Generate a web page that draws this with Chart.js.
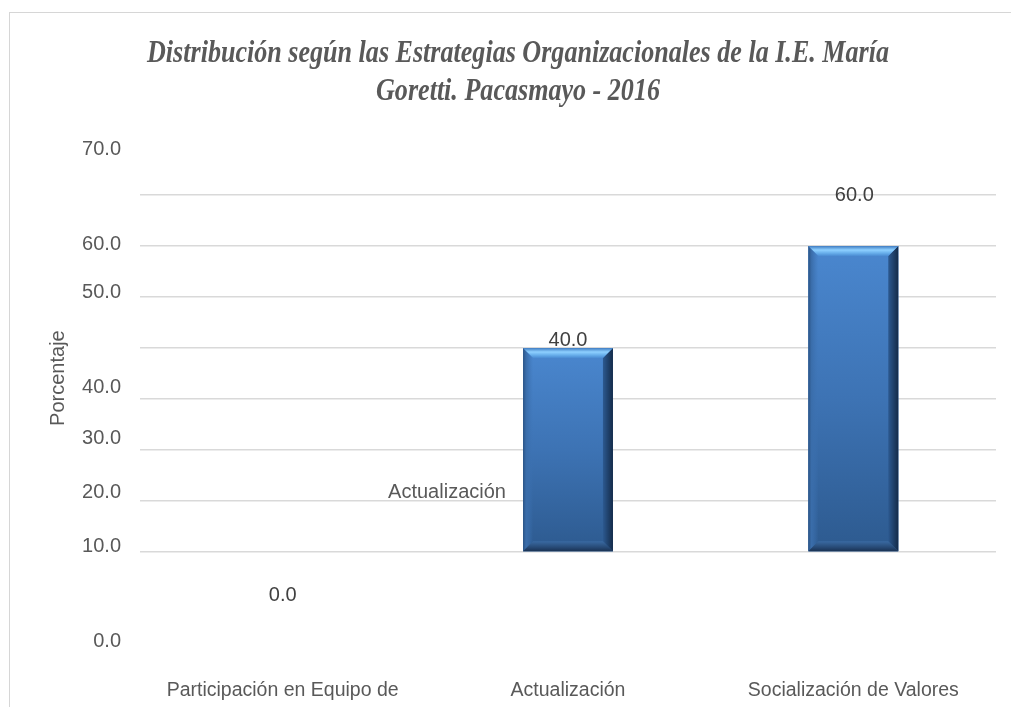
<!DOCTYPE html>
<html>
<head>
<meta charset="utf-8">
<title>Estrategias Organizacionales</title>
<script src="https://cdn.jsdelivr.net/npm/chart.js@4.4.1/dist/chart.umd.min.js"></script>
<style>
  html, body { margin: 0; padding: 0; background: #fff; overflow: hidden; }
  #frame { position: absolute; left: 9px; top: 12px; width: 1100px; height: 800px; border: 1px solid #d6d6d6; }
  #chart { display: block; }
</style>
</head>
<body>
<div id="frame"><canvas id="chart" width="1002" height="695"></canvas></div>
<script>
// data
const categories = ['Participación en Equipo de', 'Actualización', 'Socialización de Valores'];
const percentages = [0, 40, 60];
const valueLabels = ['0.0', '40.0', '60.0'];
const titleLines = ['Distribución según las Estrategias Organizacionales de la I.E. María', 'Goretti. Pacasmayo - 2016'];

// the y labels sit off their gridlines in the original, so they get their own axis
const tickValues = [79.0, 60.2, 50.8, 32.2, 22.2, 11.6, 1.0, -17.6];
const tickLabels = ['70.0', '60.0', '50.0', '40.0', '30.0', '20.0', '10.0', '0.0'];

const sans = "'Liberation Sans', Arial, sans-serif";

// bevelled bars + loose texts
const bevelPlugin = {
  id: 'bevel',
  afterDatasetsDraw(chart, args, opts) {
    const ctx = chart.ctx;
    const meta = chart.getDatasetMeta(0);
    meta.data.forEach((bar) => {
      const l = bar.x - bar.width / 2, r = bar.x + bar.width / 2;
      const t = bar.y, btm = bar.base;
      if (btm - t < 2) return;
      const b = Math.min(10, (btm - t) / 3);
      ctx.save();

      let g = ctx.createLinearGradient(0, t, 0, btm);
      g.addColorStop(0, '#4a87cf');
      g.addColorStop(0.5, '#3d73b4');
      g.addColorStop(1, '#2d5a8f');
      ctx.fillStyle = g;
      ctx.fillRect(l, t, r - l, btm - t);

      // left (soft)
      g = ctx.createLinearGradient(l, 0, l + b, 0);
      g.addColorStop(0, '#2b5486');
      g.addColorStop(0.3, '#3a6daa');
      g.addColorStop(1, 'rgba(61,115,180,0)');
      ctx.fillStyle = g;
      ctx.beginPath();
      ctx.moveTo(l, t); ctx.lineTo(l + b, t + b); ctx.lineTo(l + b, btm - b); ctx.lineTo(l, btm);
      ctx.closePath(); ctx.fill();

      // right
      g = ctx.createLinearGradient(r - b, 0, r, 0);
      g.addColorStop(0, '#2c5990');
      g.addColorStop(1, '#142b49');
      ctx.fillStyle = g;
      ctx.beginPath();
      ctx.moveTo(r, t); ctx.lineTo(r, btm); ctx.lineTo(r - b, btm - b); ctx.lineTo(r - b, t + b);
      ctx.closePath(); ctx.fill();

      // bottom
      g = ctx.createLinearGradient(0, btm - b, 0, btm);
      g.addColorStop(0, '#3a6aa2');
      g.addColorStop(0.6, '#274a76');
      g.addColorStop(1, '#1a3253');
      ctx.fillStyle = g;
      ctx.beginPath();
      ctx.moveTo(l, btm); ctx.lineTo(l + b, btm - b); ctx.lineTo(r - b, btm - b); ctx.lineTo(r, btm);
      ctx.closePath(); ctx.fill();

      // top
      g = ctx.createLinearGradient(0, t, 0, t + b);
      g.addColorStop(0, '#3f7cc2');
      g.addColorStop(0.4, '#8ed0ff');
      g.addColorStop(0.7, '#69b0ec');
      g.addColorStop(1, '#4a8bd2');
      ctx.fillStyle = g;
      ctx.beginPath();
      ctx.moveTo(l, t); ctx.lineTo(r, t); ctx.lineTo(r - b, t + b); ctx.lineTo(l + b, t + b);
      ctx.closePath(); ctx.fill();

      ctx.restore();
    });

    // value labels
    ctx.save();
    ctx.font = '20px ' + sans;
    ctx.fillStyle = '#404040';
    ctx.textAlign = 'center';
    ctx.textBaseline = 'middle';
    meta.data.forEach((bar, i) => {
      const n = opts.labelNudges[i];
      ctx.fillText(valueLabels[i], bar.x + n[0], bar.y + n[1]);
    });

    // stray category text left over inside the plot
    const xs = chart.scales.x, ys = chart.scales.y;
    ctx.fillStyle = '#595959';
    ctx.fillText(opts.stray.text, xs.getPixelForValue(opts.stray.index), ys.getPixelForValue(opts.stray.value));

    // axis title
    ctx.translate(chart.chartArea.left + opts.axisTitle.dx, ys.getPixelForValue(opts.axisTitle.value));
    ctx.rotate(-Math.PI / 2);
    ctx.fillText(opts.axisTitle.text, 0, 0);
    ctx.restore();

    // title: tall, narrow serif (squeezed horizontally like the original)
    const tt = opts.title;
    ctx.save();
    ctx.font = 'italic bold 32px "Liberation Serif", "Times New Roman", serif';
    ctx.fillStyle = '#595959';
    ctx.textAlign = 'center';
    ctx.textBaseline = 'alphabetic';
    titleLines.forEach((line, i) => {
      ctx.save();
      ctx.translate(tt.x, tt.baselines[i]);
      ctx.scale(tt.squeeze, 1);
      ctx.fillText(line, 0, 0);
      ctx.restore();
    });
    ctx.restore();
  }
};

new Chart(document.getElementById('chart'), {
  type: 'bar',
  data: {
    labels: categories,
    datasets: [{
      label: 'Porcentaje',
      data: percentages,
      yAxisID: 'y',
      backgroundColor: '#3b6fad',
      borderWidth: 0,
      barPercentage: 0.9,
      categoryPercentage: 0.35
    }]
  },
  options: {
    responsive: false,
    animation: false,
    layout: { padding: { top: 131 } },
    plugins: {
      legend: { display: false },
      tooltip: { enabled: false },
      title: { display: false },
      bevel: {
        labelNudges: [[0, 43], [0, -8], [1, -51]],
        stray: { text: 'Actualización', index: 0.576, value: 11.6 },
        axisTitle: { text: 'Porcentaje', value: 34.1, dx: -82 },
        title: { x: 508, baselines: [49, 87], squeeze: 0.815 }
      }
    },
    scales: {
      x: {
        grid: { display: false, drawTicks: false },
        border: { display: false },
        ticks: { color: '#595959', font: { family: sans, size: 19.5 }, padding: 25, maxRotation: 0, autoSkip: false },
        afterFit(scale) { scale.height = 54; }
      },
      yl: {
        position: 'left',
        min: -20,
        max: 80,
        grid: { display: false, drawTicks: false },
        border: { display: false },
        afterBuildTicks(scale) { scale.ticks = tickValues.map(v => ({ value: v })); },
        ticks: {
          autoSkip: false,
          padding: 19,
          color: '#595959',
          font: { family: sans, size: 20 },
          callback: (v, i) => tickLabels[i]
        },
        afterFit(scale) { scale.width = 130; }
      },
      y: {
        position: 'right',
        min: -20,
        max: 80,
        ticks: { display: false, stepSize: 10 },
        border: { display: false },
        grid: {
          drawTicks: false,
          lineWidth: 1.5,
          color: (c) => (c.tick && c.tick.value >= 0 && c.tick.value <= 70) ? '#d9d9d9' : 'rgba(0,0,0,0)'
        },
        afterFit(scale) { scale.width = 16; }
      }
    }
  },
  plugins: [bevelPlugin]
});
</script>
</body>
</html>
